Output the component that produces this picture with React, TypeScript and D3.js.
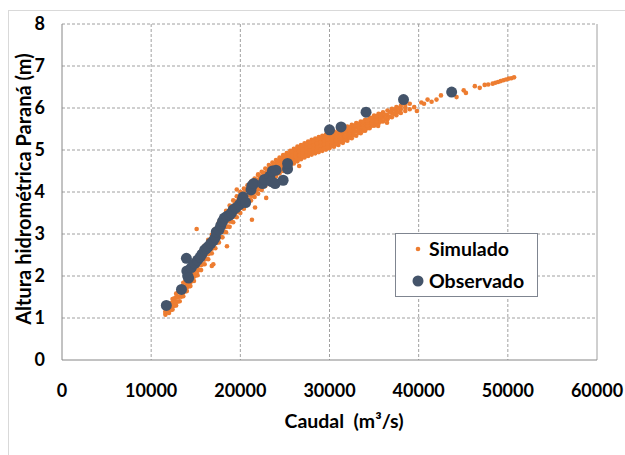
import React from "react";
import * as d3 from "d3";

// Simulated (Q m3/s, H m) read from the reference cloud
const simulado: [number, number][] = [
  [11600, 1.08], [11600, 1.12], [11600, 1.16],
  [12000, 1.12], [12000, 1.19], [12000, 1.26], [12000, 1.32],
  [12400, 1.2], [12400, 1.28], [12400, 1.37], [12400, 1.45],
  [12800, 1.3], [12800, 1.39], [12800, 1.49], [12800, 1.58],
  [13200, 1.4], [13200, 1.51], [13200, 1.62], [13200, 1.72],
  [13600, 1.52], [13600, 1.63], [13600, 1.74], [13600, 1.84],
  [14000, 1.64], [14000, 1.73], [14000, 1.81], [14000, 1.9], [14000, 1.98],
  [14400, 1.76], [14400, 1.85], [14400, 1.94], [14400, 2.03], [14400, 2.12],
  [14800, 1.88], [14800, 1.98], [14800, 2.08], [14800, 2.18], [14800, 2.28],
  [15200, 2.02], [15200, 2.12], [15200, 2.23], [15200, 2.33], [15200, 2.44],
  [15600, 2.14], [15600, 2.26], [15600, 2.37], [15600, 2.49], [15600, 2.6],
  [16000, 2.28], [16000, 2.39], [16000, 2.5], [16000, 2.61], [16000, 2.72],
  [16400, 2.4], [16400, 2.52], [16400, 2.63], [16400, 2.75], [16400, 2.86],
  [16800, 2.54], [16800, 2.65], [16800, 2.76], [16800, 2.87], [16800, 2.98],
  [17200, 2.66], [17200, 2.78], [17200, 2.89], [17200, 3.01], [17200, 3.12],
  [17600, 2.8], [17600, 2.92], [17600, 3.04], [17600, 3.16], [17600, 3.28],
  [18000, 2.92], [18000, 3.05], [18000, 3.17], [18000, 3.3], [18000, 3.42],
  [18400, 3.04], [18400, 3.17], [18400, 3.3], [18400, 3.42], [18400, 3.55],
  [18800, 3.17], [18800, 3.3], [18800, 3.43], [18800, 3.55], [18800, 3.68],
  [19200, 3.28], [19200, 3.41], [19200, 3.54], [19200, 3.67], [19200, 3.8],
  [19600, 3.4], [19600, 3.52], [19600, 3.65], [19600, 3.77], [19600, 3.9],
  [20000, 3.5], [20000, 3.62], [20000, 3.75], [20000, 3.87], [20000, 4.0],
  [20400, 3.6], [20400, 3.72], [20400, 3.84], [20400, 3.96], [20400, 4.08],
  [20800, 3.7], [20800, 3.81], [20800, 3.93], [20800, 4.04], [20800, 4.16],
  [21200, 3.8], [21200, 3.91], [21200, 4.02], [21200, 4.13], [21200, 4.24],
  [21600, 3.88], [21600, 3.99], [21600, 4.1], [21600, 4.21], [21600, 4.32],
  [22000, 3.96], [22000, 4.07], [22000, 4.18], [22000, 4.29], [22000, 4.4],
  [22400, 4.05], [22400, 4.16], [22400, 4.27], [22400, 4.37], [22400, 4.48],
  [22800, 4.14], [22800, 4.24], [22800, 4.35], [22800, 4.45], [22800, 4.56],
  [23200, 4.22], [23200, 4.32], [23200, 4.43], [23200, 4.53], [23200, 4.64],
  [23600, 4.3], [23600, 4.4], [23600, 4.5], [23600, 4.6], [23600, 4.7],
  [24000, 4.37], [24000, 4.47], [24000, 4.57], [24000, 4.66], [24000, 4.76],
  [24400, 4.44], [24400, 4.54], [24400, 4.63], [24400, 4.73], [24400, 4.82],
  [24800, 4.5], [24800, 4.6], [24800, 4.69], [24800, 4.79], [24800, 4.88],
  [25200, 4.56], [25200, 4.65], [25200, 4.75], [25200, 4.84], [25200, 4.93],
  [25600, 4.62], [25600, 4.71], [25600, 4.8], [25600, 4.89], [25600, 4.98],
  [26000, 4.68], [26000, 4.77], [26000, 4.86], [26000, 4.94], [26000, 5.03],
  [26400, 4.73], [26400, 4.82], [26400, 4.91], [26400, 4.99], [26400, 5.08],
  [26800, 4.78], [26800, 4.87], [26800, 4.95], [26800, 5.04], [26800, 5.12],
  [27200, 4.82], [27200, 4.91], [27200, 4.99], [27200, 5.08], [27200, 5.16],
  [27600, 4.86], [27600, 4.95], [27600, 5.03], [27600, 5.12], [27600, 5.2],
  [28000, 4.89], [28000, 4.98], [28000, 5.07], [28000, 5.15], [28000, 5.24],
  [28400, 4.92], [28400, 5.01], [28400, 5.1], [28400, 5.18], [28400, 5.27],
  [28800, 4.95], [28800, 5.04], [28800, 5.13], [28800, 5.22], [28800, 5.31],
  [29200, 4.98], [29200, 5.07], [29200, 5.16], [29200, 5.25], [29200, 5.34],
  [29600, 5.01], [29600, 5.1], [29600, 5.19], [29600, 5.28], [29600, 5.37],
  [30000, 5.04], [30000, 5.13], [30000, 5.22], [30000, 5.31], [30000, 5.4],
  [30500, 5.08], [30500, 5.17], [30500, 5.26], [30500, 5.35], [30500, 5.44],
  [31000, 5.12], [31000, 5.21], [31000, 5.3], [31000, 5.39], [31000, 5.48],
  [31500, 5.17], [31500, 5.26], [31500, 5.35], [31500, 5.43], [31500, 5.52],
  [32000, 5.22], [32000, 5.3], [32000, 5.39], [32000, 5.47], [32000, 5.56],
  [32500, 5.28], [32500, 5.36], [32500, 5.44], [32500, 5.52], [32500, 5.6],
  [33000, 5.34], [33000, 5.44], [33000, 5.54], [33000, 5.64],
  [33500, 5.4], [33500, 5.49], [33500, 5.59], [33500, 5.68],
  [34000, 5.46], [34000, 5.55], [34000, 5.63], [34000, 5.72],
  [34500, 5.52], [34500, 5.6], [34500, 5.69], [34500, 5.77],
  [35000, 5.58], [35000, 5.66], [35000, 5.74], [35000, 5.82],
  [35500, 5.63], [35500, 5.71], [35500, 5.78], [35500, 5.86],
  [36000, 5.68], [36000, 5.79], [36000, 5.9],
  [36500, 5.73], [36500, 5.83], [36500, 5.94],
  [37000, 5.78], [37000, 5.88], [37000, 5.98],
  [37500, 5.83], [37500, 5.93], [37500, 6.02],
  [38000, 5.88], [38000, 5.97], [38000, 6.05],
  [38500, 5.93], [38500, 6.01], [38500, 6.08],
  [39000, 5.97], [39000, 6.1],
  // in-between readings
  [12200, 1.19], [12200, 1.27], [12200, 1.35],
  [12600, 1.29], [12600, 1.38], [12600, 1.47],
  [13000, 1.39], [13000, 1.5], [13000, 1.61],
  [13400, 1.51], [13400, 1.62], [13400, 1.73],
  [13800, 1.63], [13800, 1.75], [13800, 1.86],
  [14200, 1.75], [14200, 1.88], [14200, 2.0],
  [14600, 1.88], [14600, 2.01], [14600, 2.14],
  [15000, 2.01], [15000, 2.16], [15000, 2.3],
  [15400, 2.15], [15400, 2.3], [15400, 2.45],
  [15800, 2.28], [15800, 2.44], [15800, 2.59],
  [16200, 2.41], [16200, 2.57], [16200, 2.72],
  [16600, 2.54], [16600, 2.7], [16600, 2.85],
  [17000, 2.67], [17000, 2.83], [17000, 2.98],
  [17400, 2.8], [17400, 2.97], [17400, 3.13],
  [17800, 2.93], [17800, 3.11], [17800, 3.28],
  [18200, 3.06], [18200, 3.23], [18200, 3.41],
  [18600, 3.18], [18600, 3.36], [18600, 3.54],
  [19000, 3.3], [19000, 3.48], [19000, 3.66],
  [19400, 3.42], [19400, 3.6], [19400, 3.77],
  [19800, 3.53], [19800, 3.7], [19800, 3.88],
  [20200, 3.62], [20200, 3.8], [20200, 3.97],
  [20600, 3.72], [20600, 3.89], [20600, 4.05],
  [21000, 3.82], [21000, 3.98], [21000, 4.13],
  [21400, 3.91], [21400, 4.06], [21400, 4.21],
  [21800, 3.99], [21800, 4.14], [21800, 4.29],
  [22200, 4.07], [22200, 4.22], [22200, 4.37],
  [22600, 4.16], [22600, 4.31], [22600, 4.46],
  [23000, 4.24], [23000, 4.39], [23000, 4.54],
  [23400, 4.32], [23400, 4.47], [23400, 4.61],
  [23800, 4.39], [23800, 4.53], [23800, 4.67],
  [24200, 4.45], [24200, 4.55], [24200, 4.64], [24200, 4.74],
  [24600, 4.52], [24600, 4.61], [24600, 4.71], [24600, 4.8],
  [25000, 4.58], [25000, 4.67], [25000, 4.76], [25000, 4.86],
  [25400, 4.64], [25400, 4.73], [25400, 4.82], [25400, 4.91],
  [25800, 4.69], [25800, 4.78], [25800, 4.87], [25800, 4.96],
  [26200, 4.75], [26200, 4.84], [26200, 4.92], [26200, 5.01],
  [26600, 4.8], [26600, 4.88], [26600, 4.97], [26600, 5.06],
  [27000, 4.84], [27000, 4.93], [27000, 5.01], [27000, 5.1],
  [27400, 4.88], [27400, 4.97], [27400, 5.05], [27400, 5.14],
  [27800, 4.92], [27800, 5.0], [27800, 5.09], [27800, 5.18],
  [28200, 4.95], [28200, 5.04], [28200, 5.12], [28200, 5.21],
  [28600, 4.98], [28600, 5.07], [28600, 5.16], [28600, 5.25],
  [29000, 5.01], [29000, 5.1], [29000, 5.19], [29000, 5.28],
  [29400, 5.04], [29400, 5.13], [29400, 5.22], [29400, 5.31],
  [29800, 5.07], [29800, 5.16], [29800, 5.25], [29800, 5.34],
  [30250, 5.1], [30250, 5.19], [30250, 5.28], [30250, 5.37],
  [30750, 5.14], [30750, 5.23], [30750, 5.32], [30750, 5.41],
  [31250, 5.19], [31250, 5.28], [31250, 5.37], [31250, 5.46],
  [31750, 5.24], [31750, 5.32], [31750, 5.41], [31750, 5.5],
  [32250, 5.29], [32250, 5.37], [32250, 5.46], [32250, 5.54],
  [32750, 5.35], [32750, 5.43], [32750, 5.51], [32750, 5.58],
  [33250, 5.41], [33250, 5.48], [33250, 5.55], [33250, 5.62],
  [33750, 5.46], [33750, 5.53], [33750, 5.6], [33750, 5.67],
  [34250, 5.52], [34250, 5.59], [34250, 5.65], [34250, 5.71],
  [34750, 5.58], [34750, 5.64], [34750, 5.7], [34750, 5.76],
  [35250, 5.63], [35250, 5.69], [35250, 5.75], [35250, 5.81],
  [35750, 5.68], [35750, 5.74], [35750, 5.8], [35750, 5.85],
  [36250, 5.74], [36250, 5.84],
  [36750, 5.79], [36750, 5.91],
  [37250, 5.86], [37250, 5.96],
  [37750, 5.9], [37750, 6.0],
  // sparse tail
  [39500, 6.02], [39800, 5.93], [40300, 6.13], [40600, 6.1], [41000, 6.2],
  [41450, 6.15], [42000, 6.2], [42500, 6.3], [44250, 6.26], [45050, 6.42],
  [45300, 6.36], [46300, 6.52], [46850, 6.48], [47400, 6.55], [47800, 6.56],
  [48300, 6.58], [48600, 6.6], [48900, 6.62], [49200, 6.64], [49500, 6.66],
  [49800, 6.68], [50100, 6.7], [50400, 6.71], [50700, 6.73],
  // scattered outliers
  [15100, 3.12], [16970, 2.28], [16800, 2.24], [18500, 2.71], [21300, 3.34],
  [21650, 3.63], [22900, 3.86], [22000, 4.42], [19600, 4.06], [33950, 5.48],
  [35450, 5.57], [36450, 5.65], [26600, 4.62],
];

// Observed (Q m3/s, H m)
const observado: [number, number][] = [
  [11700, 1.3], [13400, 1.68], [13950, 2.42], [14000, 2.12], [14100, 2.0],
  [14200, 1.95], [14500, 2.2], [14900, 2.3], [15200, 2.38], [15500, 2.45],
  [15700, 2.52], [16000, 2.62], [16200, 2.66], [16400, 2.7], [16700, 2.78],
  [17000, 2.85], [17200, 2.92], [17300, 3.05], [17600, 3.1], [17800, 3.2],
  [18000, 3.3], [18200, 3.38], [18500, 3.42], [18800, 3.45], [19000, 3.5],
  [19200, 3.58], [19500, 3.62], [19900, 3.7], [20200, 3.8], [20300, 3.88],
  [20600, 3.75], [21200, 4.05], [21300, 4.15], [21500, 4.2], [22500, 4.2],
  [22700, 4.3], [23300, 4.38], [23500, 4.25], [23600, 4.5], [23900, 4.2],
  [24000, 4.52], [24800, 4.28], [25300, 4.55], [25300, 4.68], [30000, 5.48],
  [31300, 5.55], [34100, 5.9], [38300, 6.2], [43700, 6.38],
];

const xTicks = [0, 10000, 20000, 30000, 40000, 50000, 60000];
const yTicks = [0, 1, 2, 3, 4, 5, 6, 7, 8];
const legendLabels = ["Simulado", "Observado"];

const W = 625;
const H = 455;
const FONT = "Lato, 'Open Sans', sans-serif";
const ORANGE = "#ED7D31";
const NAVY = "#44546A";

export default function App() {
  const x = d3.scaleLinear().domain([0, 60000]).range([62, 597]);
  const y = d3.scaleLinear().domain([0, 8]).range([360, 24]);
  const [x0, x1] = x.range();
  const [y0, y1] = y.range();

  return (
    <svg
      width={W}
      height={H}
      style={{ position: "absolute", left: 0, top: 0, background: "#fff" }}
      fontFamily={FONT}
    >
      <rect x={8.5} y={10.5} width={640} height={460} fill="#fff" stroke="#d9d9d9" />
      {/* grid */}
      {xTicks.slice(1, -1).map((t) => (
        <line key={"gx" + t} x1={x(t)} x2={x(t)} y1={y1} y2={y0} stroke="#a0a0a0" strokeDasharray="3,2" />
      ))}
      {yTicks.slice(1).map((t) => (
        <line key={"gy" + t} x1={x0} x2={x1} y1={y(t)} y2={y(t)} stroke="#a0a0a0" strokeDasharray="3,2" />
      ))}
      <line x1={x1} x2={x1} y1={y1} y2={y0} stroke="#a0a0a0" />
      <line x1={x0} x2={x0} y1={y1} y2={y0} stroke="#868686" />
      <line x1={x0} x2={x1} y1={y0} y2={y0} stroke="#868686" />

      {/* points */}
      <g fill={ORANGE}>
        {simulado.map(([q, h], i) => (
          <circle key={"s" + i} cx={x(q)} cy={y(h)} r={2.3} />
        ))}
      </g>
      <g fill={NAVY}>
        {observado.map(([q, h], i) => (
          <circle key={"o" + i} cx={x(q)} cy={y(h)} r={5.5} />
        ))}
      </g>

      {/* axis labels */}
      <g fontWeight="bold" fontSize={18} fill="#000">
        {yTicks.map((t) => (
          <text key={"ty" + t} x={45} y={y(t)} dy="0.35em" textAnchor="end">
            {t}
          </text>
        ))}
        {xTicks.map((t) => (
          <text key={"tx" + t} x={x(t)} y={391} dy="0.35em" textAnchor="middle">
            {t}
          </text>
        ))}
      </g>
      <text
        x={344}
        y={421}
        dy="0.35em"
        textAnchor="middle"
        fontWeight="bold"
        fontSize={19.5}
        style={{ whiteSpace: "pre" }}
      >
        {"Caudal  (m³/s)"}
      </text>
      <text
        transform="translate(24,189) rotate(-90)"
        dy="0.35em"
        textAnchor="middle"
        fontWeight="bold"
        fontSize={20}
      >
        Altura hidrométrica Paraná (m)
      </text>

      {/* legend */}
      <rect x={395.5} y={233.5} width={142} height={63} fill="#fff" stroke="#7f8590" />
      <circle cx={418} cy={249} r={2.3} fill={ORANGE} />
      <circle cx={418} cy={281} r={5.5} fill={NAVY} />
      <g fontWeight="bold" fontSize={19.5}>
        <text x={429} y={249} dy="0.35em">{legendLabels[0]}</text>
        <text x={429} y={281} dy="0.35em">{legendLabels[1]}</text>
      </g>
    </svg>
  );
}
